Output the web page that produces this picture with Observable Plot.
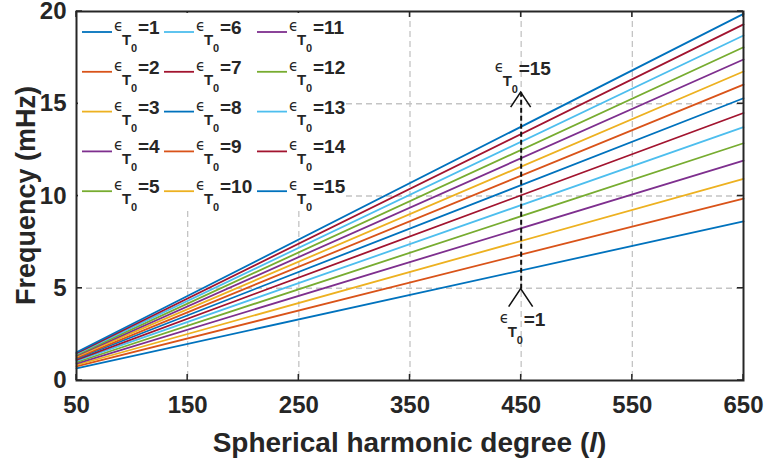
<!DOCTYPE html>
<html><head><meta charset="utf-8">
<script src="https://cdn.jsdelivr.net/npm/d3@7"></script>
<script src="https://cdn.jsdelivr.net/npm/@observablehq/plot@0.6"></script>
<style>
body{margin:0;background:#fff;}
#chart{position:relative;width:765px;height:462px;}
</style>
</head><body><div id="chart"></div>
<script>
(function () {
// ---- data ----
const degreeEnds = [50, 650];
const epsilonT0 = [1, 2, 3, 4, 5, 6, 7, 8, 9, 10, 11, 12, 13, 14, 15];
const freqAt50  = [0.66, 0.76, 0.84, 0.92, 0.99, 1.06, 1.12, 1.18, 1.23, 1.29, 1.34, 1.39, 1.44, 1.48, 1.53];
const freqAt650 = [8.62, 9.86, 10.93, 11.92, 12.86, 13.73, 14.50, 15.30, 16.04, 16.75, 17.40, 18.06, 18.70, 19.30, 19.87];
const palette = ["#0072BD", "#D95319", "#EDB120", "#7E2F8E", "#77AC30", "#4DBEEE", "#A2142F"];
const xTicks = [50, 150, 250, 350, 450, 550, 650];
const yTicks = [0, 5, 10, 15, 20];
const gridX = [150, 250, 350, 450, 550];
const gridY = [5, 10, 15];
const arrowDegree = 450;
const arrowLow = 4.95;
const arrowHigh = 15.6;
const arrowLabelLow = 1, arrowLabelHigh = 15;
const xTitle = "Spherical harmonic degree (";
const xTitleVar = "l";
const yTitle = "Frequency (mHz)";

const rows = [];
epsilonT0.forEach((e, i) => {
  rows.push({eps: e, l: degreeEnds[0], f: freqAt50[i], color: palette[i % 7]});
  rows.push({eps: e, l: degreeEnds[1], f: freqAt650[i], color: palette[i % 7]});
});

const W = 765, H = 462, mL = 76, mR = 22, mT = 11, mB = 82;
const ink = "#262626";
const plot = Plot.plot({
  width: W, height: H,
  marginLeft: mL, marginRight: mR, marginTop: mT, marginBottom: mB,
  style: {fontFamily: "'Liberation Sans', Arial, sans-serif", fontSize: "24px", fontWeight: "bold", color: ink, background: "#fff", overflow: "visible"},
  x: {domain: [50, 650], ticks: xTicks, tickSize: 0, tickPadding: 15, tickFormat: d => String(d), label: null},
  y: {domain: [0, 20], ticks: yTicks, tickSize: 0, tickPadding: 10, tickFormat: d => String(d), label: null},
  color: {type: "identity"},
  marks: [
    Plot.ruleX(gridX, {stroke: "#c4c4c4", strokeWidth: 1.3, strokeDasharray: "6,4"}),
    Plot.ruleY(gridY, {stroke: "#c4c4c4", strokeWidth: 1.3, strokeDasharray: "6,4"}),
    Plot.line(rows, {x: "l", y: "f", z: "eps", stroke: "color", strokeWidth: 1.8}),
    Plot.ruleX([arrowDegree], {y1: arrowLow, y2: arrowHigh, stroke: "#111", strokeWidth: 2, strokeDasharray: "5,3"}),
    Plot.frame({stroke: ink, strokeWidth: 2})
  ]
});
document.getElementById("chart").appendChild(plot);

const svg = d3.select(plot);
const sx = plot.scale("x"), sy = plot.scale("y");
const fTop = mT, fBottom = H - mB, fLeft = mL, fRight = W - mR;
const tk = 6;
const tg = svg.append("g").attr("stroke", ink).attr("stroke-width", 1.5);
xTicks.forEach(t => {
  const x = sx.apply(t);
  tg.append("line").attr("x1", x).attr("x2", x).attr("y1", fBottom).attr("y2", fBottom - tk);
  tg.append("line").attr("x1", x).attr("x2", x).attr("y1", fTop).attr("y2", fTop + tk);
});
yTicks.forEach(t => {
  const y = sy.apply(t);
  tg.append("line").attr("y1", y).attr("y2", y).attr("x1", fLeft).attr("x2", fLeft + tk);
  tg.append("line").attr("y1", y).attr("y2", y).attr("x1", fRight).attr("x2", fRight - tk);
});

function chevron(x, y, dx, dy) {
  svg.append("path").attr("d", `M${x - dx},${y + dy}L${x},${y}L${x + dx},${y + dy}`)
    .attr("fill", "none").attr("stroke", "#111").attr("stroke-width", 1.6);
}
const ax = sx.apply(arrowDegree);
chevron(ax, sy.apply(arrowHigh), 10, 15);
chevron(ax, sy.apply(arrowLow), 12, 18);

function epsLabel(g, x, yEq, n) {
  const t = g.append("g").attr("fill", ink).attr("text-anchor", "start");
  t.append("text").attr("x", x).attr("y", yEq + 4).attr("font-family", "'DejaVu Sans', sans-serif")
    .attr("font-weight", "normal").attr("font-size", 15).text("ϵ");
  t.append("text").attr("x", x + 8).attr("y", yEq + 18).attr("font-size", 15).text("T");
  t.append("text").attr("x", x + 17).attr("y", yEq + 25).attr("font-size", 11).text("0");
  t.append("text").attr("x", x + 24).attr("y", yEq + 7).attr("font-size", 19).text("=" + n);
}

epsLabel(svg, ax - 26, sy.apply(arrowHigh) - 24, arrowLabelHigh);
epsLabel(svg, ax - 21, sy.apply(arrowLow) + 30, arrowLabelLow);

const lg = svg.append("g");
lg.append("rect").attr("x", fLeft + 2).attr("y", fTop + 2).attr("width", 268).attr("height", 198).attr("fill", "#fff");
const colX = [82, 164, 257];
epsilonT0.forEach((e, i) => {
  const c = Math.floor(i / 5), r = i % 5;
  const yEq = 27 + r * 39.8;
  const x0 = colX[c];
  lg.append("line").attr("x1", x0).attr("x2", x0 + 30).attr("y1", yEq + 5).attr("y2", yEq + 5)
    .attr("stroke", palette[i % 7]).attr("stroke-width", 1.8);
  epsLabel(lg, x0 + 32, yEq, e);
});

const xt = svg.append("text").attr("x", (fLeft + fRight) / 2).attr("y", 452).attr("text-anchor", "middle")
  .attr("font-size", 28).attr("font-weight", "bold").attr("fill", ink);
xt.append("tspan").text(xTitle);
xt.append("tspan").attr("font-style", "italic").text(xTitleVar);
xt.append("tspan").text(")");
svg.append("text").attr("transform", `translate(35,${(fTop + fBottom) / 2}) rotate(-90)`).attr("text-anchor", "middle")
  .attr("font-size", 27).attr("font-weight", "bold").attr("fill", ink).text(yTitle);
})();
</script>
</body></html>
